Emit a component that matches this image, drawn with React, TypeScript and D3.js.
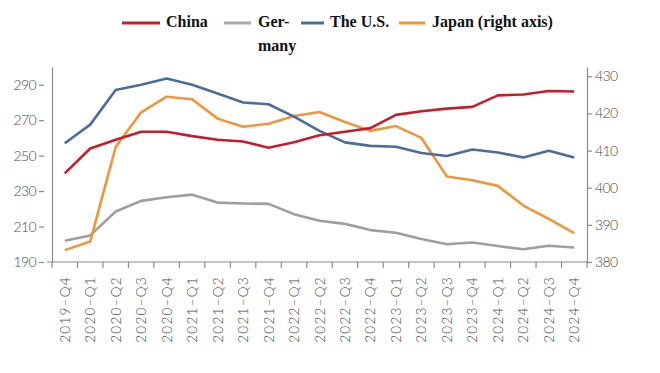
import React, { useEffect, useRef } from "react";
import * as d3 from "d3";

const quarters = [
  "2019–Q4", "2020–Q1", "2020–Q2", "2020–Q3", "2020–Q4",
  "2021–Q1", "2021–Q2", "2021–Q3", "2021–Q4",
  "2022–Q1", "2022–Q2", "2022–Q3", "2022–Q4",
  "2023–Q1", "2023–Q2", "2023–Q3", "2023–Q4",
  "2024–Q1", "2024–Q2", "2024–Q3", "2024–Q4",
];

const china = [240, 254, 259, 263.5, 263.5, 261, 259, 258, 254.5, 257.5, 261.5, 263.5, 265.5, 273, 275, 276.5, 277.5, 284, 284.5, 286.5, 286.2];
const germany = [202, 205, 218.5, 224.5, 226.5, 228, 223.5, 223, 222.8, 217, 213.3, 211.5, 208, 206.5, 203, 200, 201, 199, 197.2, 199.2, 198.2];
const us = [257, 267.5, 287, 290, 293.5, 290, 285, 280, 279, 272, 264, 257.5, 255.5, 255, 251.5, 249.8, 253.5, 251.8, 249, 252.8, 249];
const japan = [383.2, 385.5, 411, 420.3, 424.5, 423.8, 418.6, 416.4, 417.2, 419.3, 420.4, 417.7, 415.3, 416.6, 413.4, 403, 402, 400.5, 395.2, 391.6, 387.8];

const leftTicks = [190, 210, 230, 250, 270, 290];
const rightTicks = [380, 390, 400, 410, 420, 430];

const App: React.FC = () => {
  const svgRef = useRef<SVGSVGElement | null>(null);

  useEffect(() => {
    if (!svgRef.current) return;
    const svg = d3.select(svgRef.current);
    svg.selectAll("*").remove();

    const left = 52;
    const right = 587;
    const top = 67;
    const bottom = 262;
    const axisColor = "#8a8a8a";
    const labelColor = "#4a4a4a";
    const tickFont = "Lato, 'DejaVu Sans', sans-serif";

    const x = d3.scaleBand<string>().domain(quarters).range([left, right]);
    const xc = (i: number) => (x(quarters[i]) as number) + x.bandwidth() / 2;
    const yL = d3.scaleLinear().domain([190, 300]).range([bottom, top]);
    const yR = d3.scaleLinear().domain([380, 432.5]).range([bottom, top]);

    // left axis: labels with a small detached dash
    const gl = svg.append("g").attr("transform", `translate(${left},0)`)
      .call(d3.axisLeft(yL).tickValues(leftTicks).tickSize(0).tickSizeOuter(0));
    gl.selectAll(".tick line").attr("x1", -13).attr("x2", -8);
    // right axis
    const gr = svg.append("g").attr("transform", `translate(${right},0)`)
      .call(d3.axisRight(yR).tickValues(rightTicks).tickSize(5).tickSizeOuter(0));
    [gl, gr].forEach((g) => {
      g.select(".domain").attr("stroke", axisColor).attr("stroke-width", 1.2);
      g.selectAll(".tick line").attr("stroke", axisColor).attr("stroke-width", 1.2);
      g.selectAll(".tick text")
        .attr("fill", labelColor)
        .attr("font-family", tickFont)
        .attr("font-weight", 300)
        .attr("font-size", 14)
        .attr("letter-spacing", "-0.6px");
    });
    gl.selectAll(".tick text").attr("x", -16);
    gr.selectAll(".tick text").attr("x", 8);

    // bottom axis: ticks at band edges
    const gb = svg.append("g");
    gb.append("line")
      .attr("x1", left - 5).attr("x2", right)
      .attr("y1", bottom).attr("y2", bottom)
      .attr("stroke", axisColor).attr("stroke-width", 1.2);
    const edges = quarters.map((q) => x(q) as number).concat([right]);
    gb.selectAll("line.edge")
      .data(edges)
      .join("line")
      .attr("class", "edge")
      .attr("x1", (d) => d).attr("x2", (d) => d)
      .attr("y1", bottom).attr("y2", bottom + 6)
      .attr("stroke", axisColor).attr("stroke-width", 1.2);
    gb.selectAll("text")
      .data(quarters)
      .join("text")
      .attr("transform", (d, i) => `translate(${xc(i) + 5},${bottom + 14}) rotate(-90)`)
      .attr("text-anchor", "end")
      .attr("font-family", tickFont)
      .attr("font-weight", 300)
      .attr("font-size", 13.5)
      .attr("letter-spacing", "1.3px")
      .attr("fill", labelColor)
      .text((d) => d);

    const series = [
      { values: germany, color: "#9e9e9e", scale: yL },
      { values: japan, color: "#f0953a", scale: yR },
      { values: us, color: "#4a6c9e", scale: yL },
      { values: china, color: "#c41e2c", scale: yL },
    ];
    series.forEach((s) => {
      const line = d3.line<number>()
        .x((_, i) => xc(i))
        .y((d) => s.scale(d));
      svg.append("path")
        .datum(s.values)
        .attr("fill", "none")
        .attr("stroke", s.color)
        .attr("stroke-width", 2.6)
        .attr("stroke-linejoin", "round")
        .attr("d", line);
    });

    // legend
    const legend = [
      { label: ["China"], color: "#c41e2c", x1: 122, x2: 160, tx: 166 },
      { label: ["Ger-", "many"], color: "#a8a8a8", x1: 224, x2: 251, tx: 258 },
      { label: ["The U.S."], color: "#4a6c9e", x1: 301, x2: 324, tx: 330 },
      { label: ["Japan (right axis)"], color: "#f0953a", x1: 399, x2: 425, tx: 432 },
    ];
    const lg = svg.append("g");
    legend.forEach((l) => {
      lg.append("line")
        .attr("x1", l.x1).attr("x2", l.x2)
        .attr("y1", 23).attr("y2", 23)
        .attr("stroke", l.color).attr("stroke-width", 3);
      l.label.forEach((t, k) => {
        lg.append("text")
          .attr("x", l.tx)
          .attr("y", 27 + k * 24)
          .attr("font-family", "'Liberation Serif', 'Times New Roman', serif")
          .attr("font-weight", "bold")
          .attr("font-size", 16)
          .attr("fill", "#111")
          .text(t);
      });
    });
  }, []);

  return (
    <svg
      ref={svgRef}
      width={660}
      height={373}
      style={{ position: "absolute", left: 0, top: 0, background: "#fff" }}
    />
  );
};

export default App;
